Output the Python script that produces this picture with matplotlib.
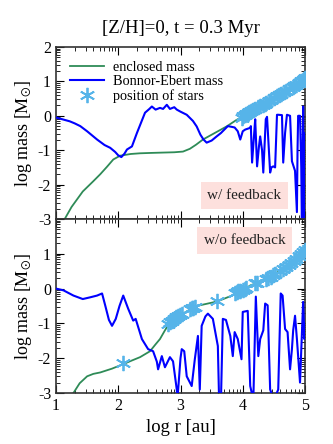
import matplotlib
matplotlib.use('Agg')
import matplotlib.pyplot as plt
import numpy as np

plt.rcParams['font.family'] = ['Liberation Serif', 'DejaVu Serif']
plt.rcParams['mathtext.fontset'] = 'stix'
plt.rcParams['axes.unicode_minus'] = False

# ---- top panel: with feedback ----
enc_fb_x = [1.14, 1.25, 1.43, 1.6, 1.71, 1.82, 1.92, 2.03, 2.2, 2.35, 2.51, 2.7, 2.9, 3.04, 3.15,
            3.25, 3.36, 3.5, 3.74, 3.9, 4.0, 4.12, 4.3, 4.5, 4.7, 4.9, 5.0]
enc_fb_y = [-3.0, -2.65, -2.2, -1.9, -1.7, -1.48, -1.27, -1.16, -1.11, -1.09, -1.08, -1.07, -1.06,
            -1.04, -0.96, -0.84, -0.69, -0.55, -0.31, -0.12, -0.02, 0.1, 0.3, 0.52, 0.73, 0.97, 1.1]

be_fb_x = [1.0, 1.1, 1.22, 1.3, 1.39, 1.5, 1.66, 1.78, 1.87, 1.95, 2.0, 2.05, 2.1, 2.14, 2.22, 2.3,
           2.43, 2.5, 2.54, 2.6, 2.67, 2.72, 2.78, 2.83, 2.9, 2.94, 3.0, 3.1, 3.2, 3.26, 3.32, 3.37,
           3.42, 3.5, 3.58, 3.65, 3.76, 3.82, 3.87, 3.92, 3.96, 4.0, 4.04, 4.12,
           4.13, 4.15, 4.18, 4.2, 4.23, 4.26, 4.28, 4.31, 4.33, 4.37, 4.39, 4.44, 4.46, 4.49, 4.52,
           4.55, 4.57, 4.63, 4.65, 4.68, 4.71, 4.76, 4.79, 4.84, 4.87, 4.88, 4.89, 4.92, 4.94,
           4.95, 4.97, 4.98, 5.0]
be_fb_y = [-0.05, -0.1, -0.16, -0.22, -0.3, -0.45, -0.69, -0.85, -0.93, -1.05, -1.15, -1.2, -1.1,
           -0.98, -0.89, -0.5, 0.09, 0.2, 0.27, 0.18, 0.23, 0.2, 0.32, 0.2, 0.25, 0.18, 0.12, 0.03,
           -0.15, -0.31, -0.55, -0.69, -0.78, -0.72, -0.6, -0.5, -0.3, -0.32, -0.34, -0.45, -0.69,
           -0.45, -0.4, -0.35,
           -0.3, -1.36, -0.6, -0.1, -1.47, -0.9, -0.6, -1.0, -1.65, -0.1, -0.03, -1.65, -1.5, -1.47,
           -1.5, 0.03, 0.03, 0.02, -1.36, -0.5, 0.03, 0.0, -1.32, -1.6, -2.8, -1.0, 0.0, 0.0,
           -1.5, -3.2, 0.27, -3.2, -0.5]

stars_fb_x = [3.98, 4.0, 4.03, 4.05, 4.08, 4.1, 4.13, 4.17, 4.2, 4.25, 4.28, 4.32, 4.35, 4.38,
              4.42, 4.45, 4.5, 4.55, 4.58, 4.62, 4.66, 4.7, 4.75, 4.8, 4.83, 4.86, 4.9, 4.93,
              4.96, 4.98, 5.0]
stars_fb_y = [-0.05, -0.02, 0.02, 0.04, 0.07, 0.1, 0.13, 0.17, 0.2, 0.25, 0.28, 0.32, 0.35, 0.38,
              0.43, 0.46, 0.52, 0.57, 0.6, 0.64, 0.68, 0.72, 0.78, 0.84, 0.87, 0.9, 0.96, 1.0,
              1.04, 1.07, 1.1]

# ---- bottom panel: without feedback ----
enc_nofb_x = [1.28, 1.38, 1.5, 1.6, 1.71, 1.9, 2.08, 2.2, 2.35, 2.51, 2.6, 2.67, 2.75, 2.83, 2.92,
              3.04, 3.2, 3.31, 3.59, 3.84, 4.0, 4.12, 4.25, 4.39, 4.5, 4.65, 4.8, 4.9, 5.0]
enc_nofb_y = [-3.0, -2.72, -2.52, -2.45, -2.41, -2.3, -2.17, -2.08, -1.97, -1.8, -1.6, -1.45, -1.2,
              -0.97, -0.84, -0.72, -0.55, -0.48, -0.37, -0.19, -0.05, 0.09, 0.18, 0.29, 0.4, 0.58,
              0.8, 0.97, 1.16]

be_nofb_x = [1.0, 1.12, 1.28, 1.43, 1.55, 1.66, 1.74, 1.79, 1.85, 1.9, 1.96, 2.02, 2.08, 2.16, 2.24,
             2.28, 2.38, 2.48, 2.56, 2.62, 2.64, 2.7, 2.75, 2.83, 2.88, 2.94, 2.95, 3.0, 3.02, 3.06,
             3.1, 3.18, 3.23, 3.28, 3.31, 3.34, 3.4, 3.44, 3.52, 3.6, 3.62, 3.65, 3.68, 3.73, 3.8,
             3.84, 3.87, 3.92, 3.98, 4.0, 4.08, 4.12, 4.17, 4.21, 4.25, 4.28, 4.33, 4.36, 4.4, 4.44,
             4.5, 4.57, 4.61, 4.64, 4.68, 4.72, 4.76, 4.79, 4.81, 4.84, 4.87, 4.92, 4.97, 4.99, 5.0]
be_nofb_y = [0.0, -0.05, -0.2, -0.3, -0.25, -0.2, -0.14, -0.48, -0.9, -1.07, -0.87, -0.5, -0.2,
             -0.58, -0.92, -0.87, -1.45, -1.74, -1.8, -2.1, -2.32, -1.94, -2.26, -1.97, -2.09, -2.9,
             -3.2, -2.0, -1.74, -1.8, -2.52, -2.8, -2.03, -1.36, -2.9, -1.07, -0.8, -0.72, -0.87,
             -1.65, -3.2, -3.2, -0.87, -0.9, -1.36, -1.94, -1.25, -1.45, -2.03, -0.67, -0.64, -2.8,
             -3.2, -0.23, -1.94, -1.45, -1.2, -0.43, -0.48, -2.9, -3.2, -2.9, -0.14, -0.2, -1.16,
             -1.25, -2.32, -1.74, -1.2, -0.78, -1.45, -2.7, -0.38, -1.45, -1.0]

stars_nofb_x = [2.08, 2.8, 2.83, 2.86, 2.9, 2.93, 2.96, 2.99, 3.02, 3.15, 3.18, 3.2, 3.23, 3.59,
                3.88, 3.9, 3.93, 3.96, 4.0, 4.03, 4.06, 4.2, 4.23, 4.37, 4.41, 4.45, 4.49, 4.52,
                4.6, 4.65, 4.7, 4.74, 4.78, 4.82, 4.86, 4.9, 4.93, 4.96, 5.0]
stars_nofb_y = [-2.15, -1.02, -0.97, -0.92, -0.86, -0.82, -0.78, -0.75, -0.72, -0.58, -0.56,
                -0.55, -0.53, -0.37, -0.12, -0.1, -0.08, -0.06, -0.03, 0.0, 0.03, 0.15, 0.17,
                0.27, 0.3, 0.34, 0.38, 0.42, 0.5, 0.56, 0.63, 0.68, 0.74, 0.8, 0.86, 0.93, 0.98,
                1.05, 1.12]

green = '#2e8b57'
blue = '#0000ff'
star_c = '#56b4e9'

fig = plt.figure(figsize=(3.33, 4.44), dpi=100)
ax1 = fig.add_axes([56/333, 1-219/444, 249/333, 172/444])
ax2 = fig.add_axes([56/333, 1-393/444, 249/333, 174/444])

minor_x = [n + np.log10(k) for n in range(1, 5) for k in range(2, 10)]
minor_y = [n + np.log10(k) for n in range(-3, 2) for k in range(2, 10)]

panels = [(ax1, enc_fb_x, enc_fb_y, be_fb_x, be_fb_y, stars_fb_x, stars_fb_y, 'w/ feedback', 0.135),
          (ax2, enc_nofb_x, enc_nofb_y, be_nofb_x, be_nofb_y, stars_nofb_x, stars_nofb_y, 'w/o feedback', 0.875)]

for ax, ex, ey, bx, by, sx, sy, lab, ty in panels:
    ax.plot(ex, ey, color=green, lw=1.3, label='enclosed mass', zorder=2)
    ax.plot(bx, by, color=blue, lw=1.5, label='Bonnor-Ebert mass', zorder=3)
    ax.plot(sx, sy, ls='none', marker=(6, 2, 0), ms=11, mew=1.3, color=star_c,
            label='position of stars', zorder=4)
    ax.set_xlim(1, 5)
    ax.set_ylim(-3, 2)
    ax.set_xticks([1, 2, 3, 4, 5])
    ax.set_yticks([-3, -2, -1, 0, 1, 2])
    ax.set_xticks(minor_x, minor=True)
    ax.set_yticks(minor_y, minor=True)
    ax.tick_params(which='both', direction='in', top=True, right=True, labelsize=11.5)
    ax.tick_params(which='major', length=6, width=0.8)
    ax.tick_params(which='minor', length=3, width=0.6)
    ax.set_ylabel(r'log mass [$\mathrm{M}_{\odot}$]', fontsize=13, labelpad=3)
    ax.text(0.757, ty, lab, transform=ax.transAxes, ha='center', va='center', fontsize=11,
            color='#222222', bbox=dict(boxstyle='square,pad=0.45', fc='#fde0dd', ec='none'))
    for s in ax.spines.values():
        s.set_linewidth(1.2)
        s.set_color('#333333')

ax1.set_xticklabels([])
ax2.set_yticklabels(['-3', '-2', '-1', '0', '1', ''])
ax1.legend(loc='upper left', frameon=False, fontsize=10.3, handlelength=2.4,
           handletextpad=0.6, borderaxespad=0.55, labelspacing=0.1)
ax2.set_xlabel('log r [au]', fontsize=13.5)
ax1.set_title('[Z/H]=0, t = 0.3 Myr', fontsize=13.5, pad=10)

fig.savefig('out.png', dpi=100)
